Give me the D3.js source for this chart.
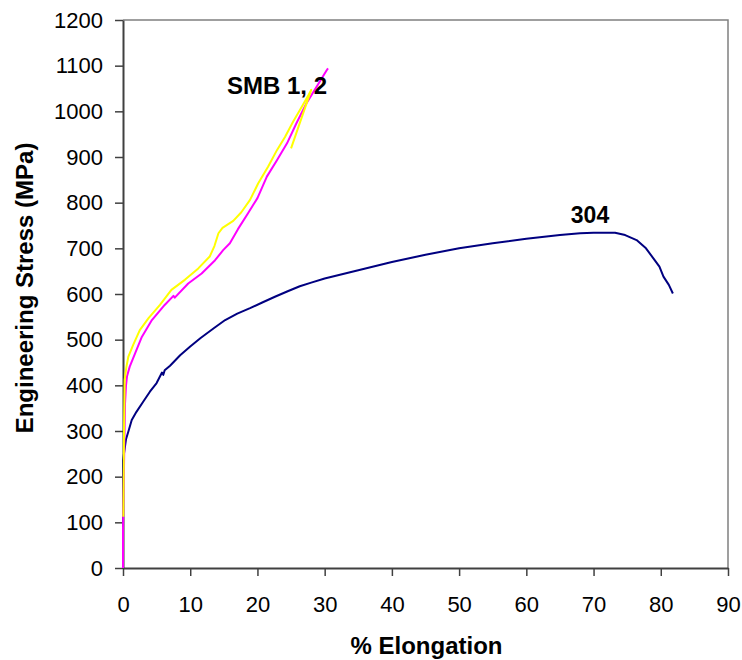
<!DOCTYPE html>
<html>
<head>
<meta charset="utf-8">
<script src="https://cdn.jsdelivr.net/npm/d3@7"></script>
<style>
  html, body { margin: 0; padding: 0; background: #fff; }
  svg { display: block; font-family: "Liberation Sans", Arial, sans-serif; }
</style>
</head>
<body>
<svg id="chart" width="742" height="660"></svg>
<script>
// Tensile test curves: engineering stress vs. % elongation

// Type 304 stainless steel
const elong304  = [0, 0, 0, 0.45, 0.8, 1.3, 2.0, 3.0, 4.0, 5.0, 5.8, 6.0, 6.2, 7.0, 8.5, 10, 11.5, 13.5, 15.2, 17, 18.9, 20.8, 22.6, 24.5, 26.3, 28, 30, 35, 40, 45, 50, 55, 60, 65, 68, 70, 73.2, 74.7, 76.4, 77.8, 78.9, 79.8, 80.4, 81.2, 81.8];
const stress304 = [90, 160, 235, 282, 299, 324, 342, 364, 386, 405, 428, 423, 433, 443, 466, 485, 503, 525, 543, 557, 569, 582, 594, 606, 617, 625, 634, 652, 670, 686, 700, 711, 721, 729, 733, 734, 734, 729, 718, 700, 678, 660, 638, 620, 601];

// SMB specimen 1
const elongSmb1  = [0.05, 0.15, 0.25, 0.5, 0.8, 1.5, 2.5, 3.8, 5.5, 7.2, 9.2, 11.2, 12.9, 13.6, 14.2, 14.8, 16.4, 17.6, 18.9, 20.1, 21.6, 22.9, 24.1, 25.3, 26.6, 27.6, 28.0, 25.0];
const stressSmb1 = [112, 300, 412, 440, 463, 488, 521, 547, 576, 609, 631, 656, 682, 705, 733, 745, 760, 779, 806, 842, 879, 915, 944, 977, 1010, 1036, 1047, 919];

// SMB specimen 2
const elongSmb2  = [0, 0, 0.3, 0.45, 0.6, 1.0, 1.8, 2.8, 4.3, 6.2, 7.5, 7.7, 9.7, 11.7, 13.7, 14.9, 15.9, 17.1, 18.6, 20.0, 21.4, 22.9, 24.4, 25.8, 27.3, 28.8, 30.3, 30.5];
const stressSmb2 = [0, 85, 360, 400, 420, 441, 470, 506, 543, 576, 596, 592, 623, 645, 674, 696, 711, 742, 777, 810, 857, 893, 930, 974, 1018, 1054, 1090, 1094];

const xTicks = [0, 10, 20, 30, 40, 50, 60, 70, 80, 90];
const yTicks = [0, 100, 200, 300, 400, 500, 600, 700, 800, 900, 1000, 1100, 1200];

const seriesNames  = ["304", "SMB 1", "SMB 2"];
const seriesColors = ["#000080", "#FFFF00", "#FF00FF"];

const svg = d3.select("#chart");
const plotLeft = 123, plotRight = 728, plotTop = 20, plotBottom = 568;

const x = d3.scaleLinear().domain([0, 90]).range([plotLeft, plotRight]);
const y = d3.scaleLinear().domain([0, 1200]).range([plotBottom, plotTop]);

// plot area border (top and right)
svg.append("path")
  .attr("d", `M${plotLeft},${plotTop}H${plotRight}V${plotBottom}`)
  .attr("fill", "none")
  .attr("stroke", "#808080")
  .attr("stroke-width", 1.5);

// y axis
const yAxis = svg.append("g")
  .attr("transform", `translate(${plotLeft},0)`)
  .call(d3.axisLeft(y).tickValues(yTicks).tickFormat(d3.format("d"))
    .tickSize(8).tickPadding(12).tickSizeOuter(0));
yAxis.selectAll("text").attr("font-size", 22).attr("fill", "#000").attr("font-family", "Liberation Sans, Arial, sans-serif");

// x axis
const xAxis = svg.append("g")
  .attr("transform", `translate(0,${plotBottom})`)
  .call(d3.axisBottom(x).tickValues(xTicks).tickFormat(d3.format("d"))
    .tickSize(8).tickPadding(20).tickSizeOuter(0));
xAxis.selectAll("text").attr("font-size", 22).attr("fill", "#000").attr("font-family", "Liberation Sans, Arial, sans-serif");

[yAxis, xAxis].forEach(g => {
  g.select(".domain").attr("stroke", "#404040").attr("stroke-width", 2);
  g.selectAll(".tick line").attr("stroke", "#404040").attr("stroke-width", 1.5);
});

// curves (SMB 2 first so SMB 1 sits on top along the elastic rise)
const series = [
  { name: seriesNames[0], color: seriesColors[0], xs: elong304,  ys: stress304 },
  { name: seriesNames[2], color: seriesColors[2], xs: elongSmb2, ys: stressSmb2 },
  { name: seriesNames[1], color: seriesColors[1], xs: elongSmb1, ys: stressSmb1 }
];

const line = d3.line().x(d => x(d[0])).y(d => y(d[1]));

svg.append("g")
  .selectAll("path")
  .data(series)
  .join("path")
  .attr("d", s => line(d3.zip(s.xs, s.ys)))
  .attr("fill", "none")
  .attr("stroke", s => s.color)
  .attr("stroke-width", 2)
  .attr("stroke-linejoin", "round");

// curve labels
svg.append("text")
  .attr("x", 227).attr("y", 94)
  .attr("font-size", 24).attr("font-weight", "bold")
  .text("SMB 1, 2");

svg.append("text")
  .attr("x", 590).attr("y", 223)
  .attr("text-anchor", "middle")
  .attr("font-size", 23).attr("font-weight", "bold")
  .text("304");

// axis titles
svg.append("text")
  .attr("x", (plotLeft + plotRight) / 2 + 1).attr("y", 654)
  .attr("text-anchor", "middle")
  .attr("font-size", 24).attr("font-weight", "bold")
  .text("% Elongation");

svg.append("text")
  .attr("transform", "translate(33,288) rotate(-90)")
  .attr("text-anchor", "middle")
  .attr("font-size", 24).attr("font-weight", "bold")
  .text("Engineering Stress (MPa)");
</script>
</body>
</html>
